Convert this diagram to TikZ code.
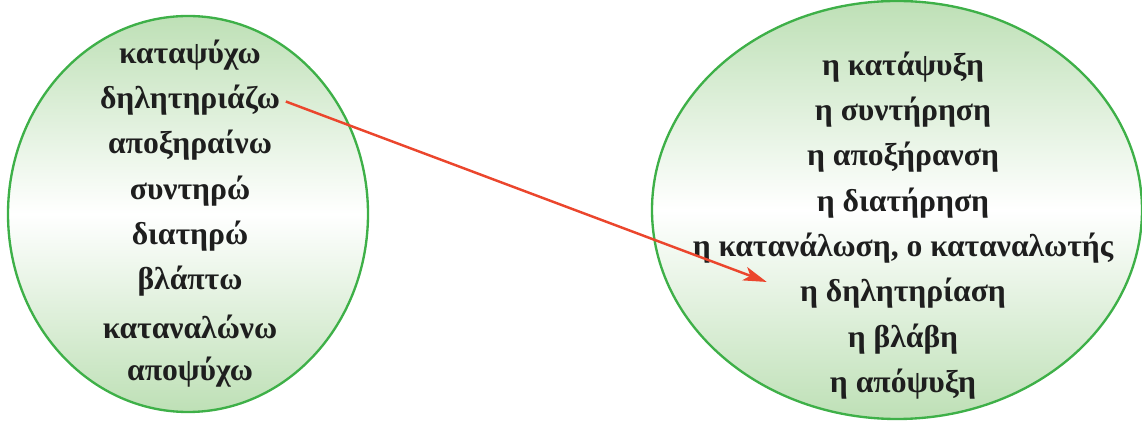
\documentclass[tikz,border=0pt]{standalone}
\usepackage{fontspec}
\setmainfont{Liberation Serif}
\usetikzlibrary{arrows.meta,positioning}
\definecolor{ovalgreen}{RGB}{62,176,72}
\definecolor{ovalfill}{RGB}{190,224,182}
\definecolor{arrowred}{RGB}{235,70,45}
\definecolor{wordtext}{RGB}{30,30,30}
\tikzset{
    oval/.style={draw=ovalgreen, line width=2pt, top color=ovalfill, bottom color=ovalfill, middle color=white},
    word/.style={font=\fontsize{27}{30}\selectfont\bfseries, text=wordtext, inner sep=2pt},
    link/.style={draw=arrowred, line width=2.1pt, -{Stealth[length=20pt, width=12pt, inset=5pt]}},
}
\begin{document}
\begin{tikzpicture}[x=0.03cm, y=0.03cm]
    \useasboundingbox (0,0) rectangle (1142,426);
    % Two ovals
    \path[oval] (188,212) ellipse [x radius=180, y radius=198];
    \path[oval] (897,216) ellipse [x radius=245, y radius=209];
    % Verbs
    \foreach \w [count=\i] in {καταψύχω, δηλητηριάζω, αποξηραίνω, συντηρώ, διατηρώ, βλάπτω, καταναλώνω, αποψύχω} {
        \node[word] (v\i) at (190, 371-45.3*\i+45.3) {\w};
    }
    % Nouns
    \foreach \w [count=\i] in {η κατάψυξη, η συντήρηση, η αποξήρανση, η διατήρηση, {η κατανάλωση, ο καταναλωτής}, η δηλητηρίαση, η βλάβη, η απόψυξη} {
        \node[word] (n\i) at (903, 359-45.3*\i+45.3) {\w};
    }
    \draw[link, shorten <=3pt, shorten >=28pt] (v2.east) -- (n6.west);
\end{tikzpicture}
\end{document}
